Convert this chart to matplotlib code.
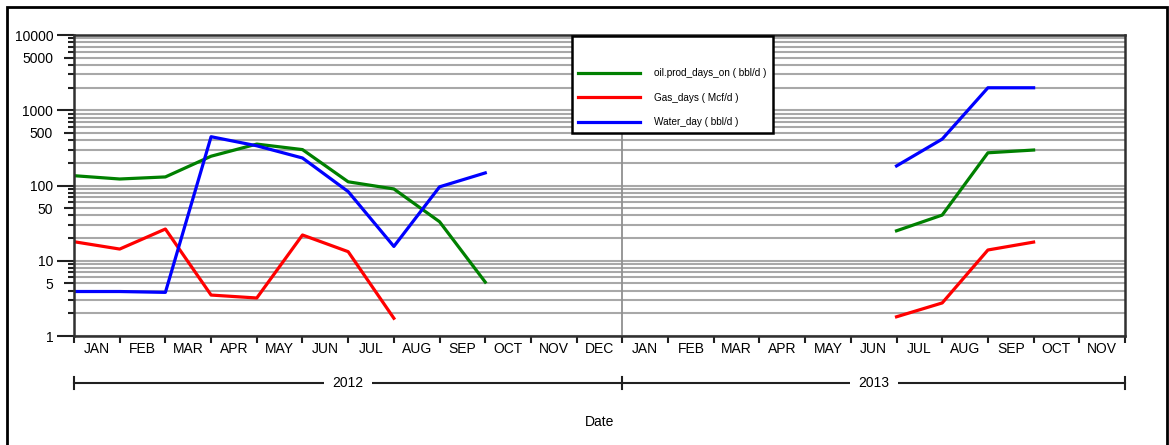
import numpy as np
import pandas as pd
import matplotlib
matplotlib.use('Agg')
import matplotlib.pyplot as plt
from matplotlib.patches import Rectangle
from matplotlib.ticker import FixedLocator, NullFormatter

plt.rcParams['font.family'] = ['Liberation Sans', 'DejaVu Sans']

# monthly readings
months_2012 = ['2012-01-01', '2012-02-01', '2012-03-01', '2012-04-01', '2012-05-01',
               '2012-06-01', '2012-07-01', '2012-08-01', '2012-09-01', '2012-10-01']
oil_2012 = [135, 122, 130, 245, 355, 300, 112, 90, 33, 5.2]
gas_2012 = [17.9, 14.3, 26.4, 3.5, 3.2, 22, 13.2, 1.72]
water_2012 = [3.9, 3.9, 3.8, 445, 337, 232, 83, 15.5, 96, 147]

months_2013 = ['2013-07-01', '2013-08-01', '2013-09-01', '2013-10-01']
oil_2013 = [25, 40.5, 272, 296]
gas_2013 = [1.8, 2.75, 13.9, 17.7]
water_2013 = [182, 414, 1990, 1990]

month_labels = ['JAN', 'FEB', 'MAR', 'APR', 'MAY', 'JUN', 'JUL', 'AUG', 'SEP', 'OCT', 'NOV', 'DEC',
                'JAN', 'FEB', 'MAR', 'APR', 'MAY', 'JUN', 'JUL', 'AUG', 'SEP', 'OCT', 'NOV']
years = ['2012', '2013']


def month_index(dates):
    d = pd.to_datetime(dates)
    return (d.year - 2012) * 12 + (d.month - 1)


x12 = month_index(months_2012)
x13 = month_index(months_2013)

fig = plt.figure(figsize=(11.69, 4.45), dpi=100)
ax = fig.add_axes([74 / 1169, 1 - 336 / 445, 1051 / 1169, 301 / 445])

ax.set_yscale('log')
ax.set_ylim(1, 10000)
ax.set_xlim(0, 23)

# gridlines at every log step
grid_vals = [m * 10 ** e for e in range(0, 4) for m in range(1, 10)] + [10000]
for v in grid_vals:
    ax.axhline(v, color='#a8a8a8', lw=1.5, zorder=1)
ax.axvline(12, color='#909090', lw=1.3, zorder=1)

lw = 2.3
ax.plot(x12, oil_2012, color='#008000', lw=lw, label='oil.prod_days_on ( bbl/d )', zorder=3)
ax.plot(x12[:len(gas_2012)], gas_2012, color='#ff0000', lw=lw, label='Gas_days ( Mcf/d )', zorder=3)
ax.plot(x12, water_2012, color='#0000ff', lw=lw, label='Water_day ( bbl/d )', zorder=3)
ax.plot(x13, oil_2013, color='#008000', lw=lw, zorder=3)
ax.plot(x13, gas_2013, color='#ff0000', lw=lw, zorder=3)
ax.plot(x13, water_2013, color='#0000ff', lw=lw, zorder=3)

# y axis ticks
ylab_vals = [1, 5, 10, 50, 100, 500, 1000, 5000, 10000]
ax.yaxis.set_major_locator(FixedLocator(ylab_vals))
ax.set_yticklabels([str(v) for v in ylab_vals])
ax.yaxis.set_minor_locator(FixedLocator([m * 10 ** e for e in range(0, 4) for m in (2, 3, 4, 6, 7, 8, 9)]))
ax.yaxis.set_minor_formatter(NullFormatter())
ax.tick_params(axis='y', which='major', length=12, width=1.5, color='#202020',
               labelsize=10, pad=3)
ax.tick_params(axis='y', which='minor', length=4, width=1.5, color='#202020')
for t, v in zip(ax.yaxis.get_major_ticks(), ylab_vals):
    if str(v)[0] == '5':
        t.tick1line.set_markersize(7)

# x axis: boundaries as ticks, month names centred
ax.xaxis.set_major_locator(FixedLocator(range(0, 24)))
ax.xaxis.set_major_formatter(NullFormatter())
ax.xaxis.set_minor_locator(FixedLocator(np.arange(23) + 0.5))
ax.set_xticklabels(month_labels, minor=True)
ax.tick_params(axis='x', which='major', length=5, width=1.5, color='#202020')
ax.tick_params(axis='x', which='minor', length=0, labelsize=10, pad=4)
for t in ax.xaxis.get_major_ticks():
    if t.get_loc() == 12:
        t.tick1line.set_markersize(11)

for side in ['left', 'bottom', 'right', 'top']:
    ax.spines[side].set_color('#303030')
    ax.spines[side].set_linewidth(1.8)
    ax.spines[side].set_zorder(4)

# year bar underneath the months
ybar = -0.156
bar_tr = ax.get_xaxis_transform()
ax.plot([0, 23], [ybar, ybar], color='#202020', lw=1.5, transform=bar_tr, clip_on=False)
for xb in (0, 12, 23):
    ax.plot([xb, xb], [ybar - 0.02, ybar + 0.02], color='#202020', lw=1.5,
            transform=bar_tr, clip_on=False)
for xc, yr in zip((6, 17.5), years):
    ax.text(xc, ybar, yr, transform=bar_tr, ha='center', va='center', fontsize=10,
            bbox=dict(facecolor='white', edgecolor='none', pad=6))

fig.text(600 / 1169, 1 - 422 / 445, 'Date', ha='center', va='center', fontsize=10)

leg = ax.legend(loc='upper left', bbox_to_anchor=(0.474, 0.997), borderaxespad=0,
                fontsize=7.2, frameon=True, fancybox=False, edgecolor='black', framealpha=1,
                handlelength=6.2, handletextpad=1.4, labelspacing=1.45,
                borderpad=0.6, title=' ', title_fontsize=9)
leg.get_frame().set_linewidth(1.8)
leg.set_zorder(5)

# outer frame
fig.patches.append(Rectangle((7 / 1169, -0.05), 1160 / 1169, 1.05 - 7 / 445,
                             transform=fig.transFigure, fill=False,
                             edgecolor='black', lw=2))

fig.savefig('out.png', dpi=100)
